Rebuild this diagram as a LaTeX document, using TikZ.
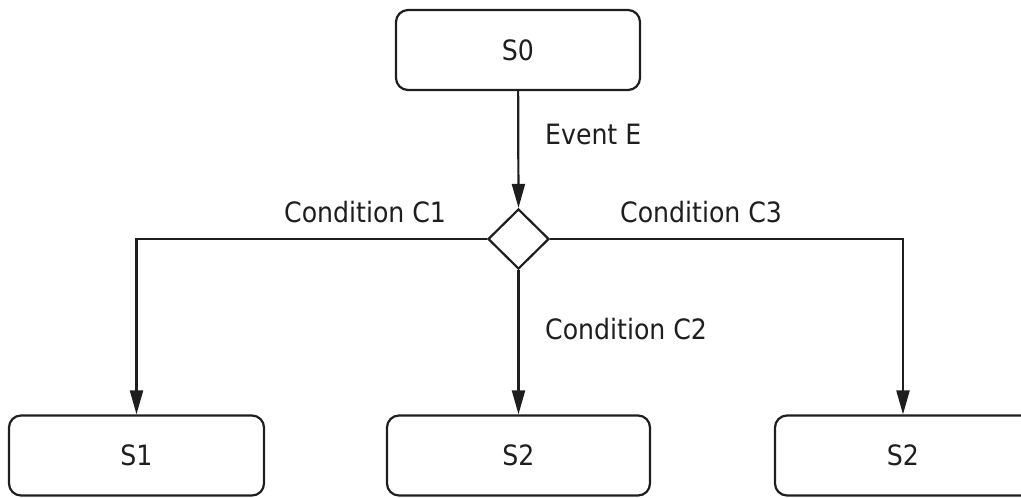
\documentclass[tikz,border=0pt]{standalone}
\usepackage{fontspec}
\setmainfont{DejaVu Sans Condensed}
\usetikzlibrary{shapes.geometric,arrows.meta}
\definecolor{ink}{HTML}{1E1E1E}
\tikzset{
  statebox/.style={draw=ink, line width=2.2pt, rounded corners=12pt, minimum height=80pt, inner sep=0pt, font=\fontsize{28}{32}\selectfont, text=ink},
  choice/.style={draw=ink, line width=2.2pt, diamond, minimum width=61pt, minimum height=60pt, inner sep=0pt, fill=white},
  arr/.style={draw=ink, line width=2.2pt, -{Triangle[length=24pt,width=13pt]}},
  lbl/.style={anchor=base west, inner sep=0pt, font=\fontsize{28}{32}\selectfont, text=ink}
}
\begin{document}
\begin{tikzpicture}[x=1pt,y=-1pt]
\useasboundingbox (0,0) rectangle (1021,498);
\node[statebox, minimum width=244pt] (s0) at (518,50) {S0};
\node[choice] (d) at (518.5,239) {};
\node[statebox, minimum width=255pt] (s1) at (136.5,455.5) {S1};
\node[statebox, minimum width=263pt] (s2) at (518.5,455.5) {S2};
\node[statebox, minimum width=270pt, text width=256pt, align=center] (s3) at (910,455.5) {\hspace*{-14pt}S2};
\coordinate (c3) at (903,300);
\draw[arr] (s0) -- (d.north);
\draw[arr] (d.west) -| (s1.north);
\draw[arr] (d.south) -- (s2.north);
\draw[arr] (d.east) -| (c3 |- s3.north);
\node[lbl] (le) at (545,144) {Event E};
\node[lbl] (l1) at (284,222) {Condition C1};
\node[lbl] (l3) at (620,222) {Condition C3};
\node[lbl] (l2) at (545,339) {Condition C2};
\end{tikzpicture}
\end{document}
